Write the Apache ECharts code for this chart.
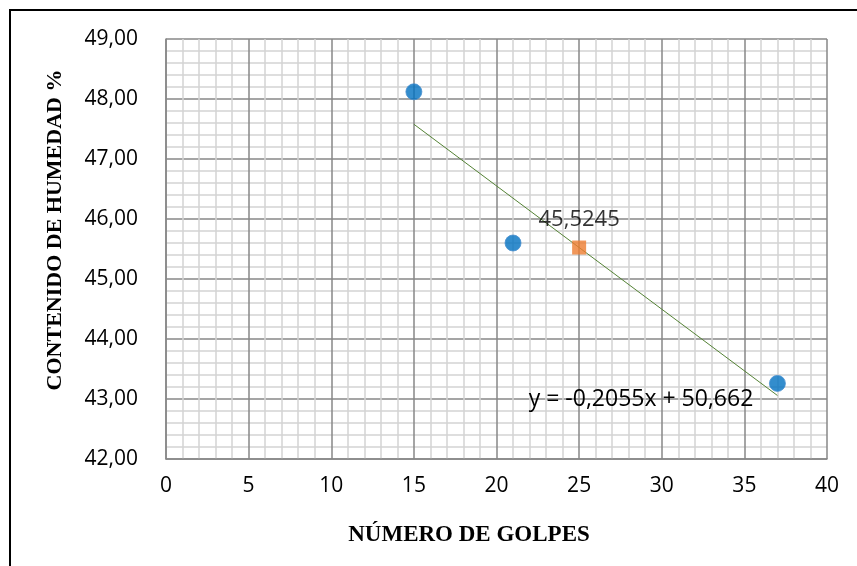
<!DOCTYPE html>
<html><head><meta charset="utf-8">
<script src="https://cdn.jsdelivr.net/npm/echarts@6/dist/echarts.min.js"></script>
<style>html,body{margin:0;padding:0;background:#fff}#c{width:857px;height:566px}</style>
</head><body><div id="c"></div>
<script>
var golpes = [15, 21, 37];
var humedad = [48.12, 45.6, 43.26];
var puntoX = [25];
var puntoY = [45.5245];
var pendiente = -0.2055;
var intercepto = 50.662;
var ecuacion = 'y = -0,2055x + 50,662';
var xTicks = [0, 5, 10, 15, 20, 25, 30, 35, 40];
var yTicks = [42, 43, 44, 45, 46, 47, 48, 49];

var xMinD = Math.min.apply(null, golpes), xMaxD = Math.max.apply(null, golpes);
var trend = [[xMinD, pendiente * xMinD + intercepto], [xMaxD, pendiente * xMaxD + intercepto]];
var fmt = function (v) { return v.toFixed(2).replace('.', ','); };
var font = 'Open Sans';
var chart = echarts.init(document.getElementById('c'));
chart.setOption({
  animation: false,
  backgroundColor: '#fff',
  grid: { left: 166, top: 39, width: 661, height: 420, containLabel: false },
  xAxis: {
    type: 'value', min: xTicks[0], max: xTicks[xTicks.length - 1], interval: 5,
    axisLine: { show: true, lineStyle: { color: '#878787', width: 1.5 } },
    axisTick: { show: false },
    axisLabel: { margin: 17, color: '#000', fontFamily: font, fontSize: 21 },
    splitLine: { show: true, lineStyle: { color: '#878787', width: 1.5 } },
    minorTick: { show: false, splitNumber: 5 },
    minorSplitLine: { show: true, lineStyle: { color: '#d4d4d4', width: 1.5 } }
  },
  yAxis: {
    type: 'value', min: yTicks[0], max: yTicks[yTicks.length - 1], interval: 1,
    axisLine: { show: true, lineStyle: { color: '#878787', width: 1.5 } },
    axisTick: { show: false },
    axisLabel: { margin: 28, color: '#000', fontFamily: font, fontSize: 21, formatter: fmt },
    splitLine: { show: true, lineStyle: { color: '#878787', width: 1.5 } },
    minorTick: { show: false, splitNumber: 5 },
    minorSplitLine: { show: true, lineStyle: { color: '#d4d4d4', width: 1.5 } }
  },
  series: [
    {
      type: 'line', data: trend, showSymbol: false, symbol: 'none',
      lineStyle: { color: '#548235', width: 1 }, z: 3
    },
    {
      type: 'scatter', data: golpes.map(function (x, i) { return [x, humedad[i]]; }),
      symbol: 'circle', symbolSize: 16,
      itemStyle: { color: '#0070c0', borderColor: '#4a90d0', borderWidth: 1 }, z: 4
    },
    {
      type: 'scatter', data: puntoX.map(function (x, i) { return [x, puntoY[i]]; }),
      symbol: 'rect', symbolSize: 14,
      itemStyle: { color: '#ed7d31' }, z: 4,
      label: {
        show: true, position: 'top', distance: 10, color: '#000', fontFamily: font, fontSize: 22,
        formatter: function (p) { return String(p.value[1]).replace('.', ','); }
      }
    }
  ],
  graphic: [
    { type: 'rect', z: 100, shape: { x: 10, y: 10, width: 900, height: 600 }, style: { fill: 'none', stroke: '#000', lineWidth: 2 }, silent: true },
    { type: 'text', z: 100, x: 641, y: 399, style: { text: ecuacion, fill: '#000', font: '23px "Open Sans"', textAlign: 'center', textVerticalAlign: 'middle' } },
    { type: 'text', z: 100, x: 55, y: 230, rotation: Math.PI / 2, style: { text: 'CONTENIDO DE HUMEDAD %', fill: '#000', font: 'bold 22px "Liberation Serif"', textAlign: 'center', textVerticalAlign: 'middle' } },
    { type: 'text', z: 100, x: 469, y: 535, style: { text: 'NÚMERO DE GOLPES', fill: '#000', font: 'bold 23px "Liberation Serif"', textAlign: 'center', textVerticalAlign: 'middle' } }
  ]
});
</script></body></html>
